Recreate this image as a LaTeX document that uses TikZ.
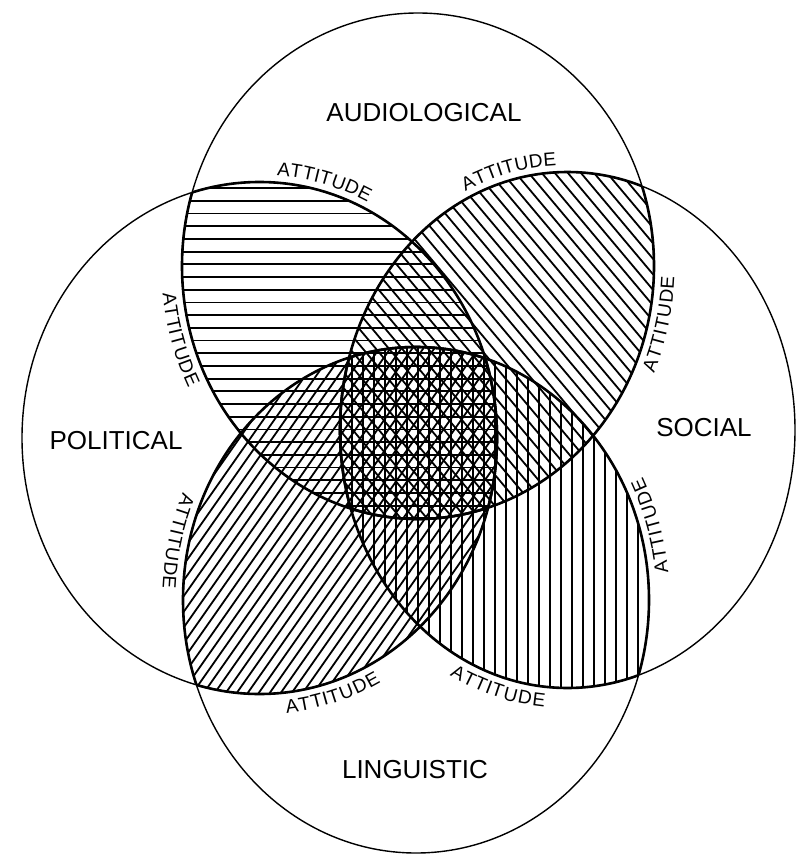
\documentclass[tikz,border=0pt]{standalone}
\usepackage{fontspec}
\setmainfont{Liberation Sans}
\usetikzlibrary{decorations.text}
\newcommand\attfont{\fontsize{9.5}{11}\selectfont}
\begin{document}
\begin{tikzpicture}[x=0.5pt,y=-0.5pt,
  hatch/.style={line width=0.9pt},
  outer/.style={line width=0.7pt},
  petal/.style={line width=1.3pt},
  lab/.style={font=\fontsize{13}{15}\selectfont, inner sep=0pt},
  attup/.style={decorate, decoration={text along path, text={|\attfont|ATTITUDE}, text align=center, raise=3.5pt}},
  attdn/.style={decorate, decoration={text along path, text={|\attfont|ATTITUDE}, text align=center, raise=-10.3pt}}]
\useasboundingbox (0,0) rectangle (798,856);
\def\shT{(418,266) ellipse [x radius=236, y radius=253]}
\def\shB{(416,600) ellipse [x radius=233, y radius=253]}
\def\shL{(259.5,438) ellipse [x radius=237.5, y radius=256]}
\def\shR{(567.5,430) ellipse [x radius=227.5, y radius=258]}
% top-left pair: horizontal
\begin{scope}
  \clip \shT; \clip \shL;
  \foreach \i in {0,...,30} \draw[hatch] (0,{150+\i*12.7}) -- (798,{150+\i*12.7});
\end{scope}
% top-right pair: falling diagonal
\begin{scope}
  \clip \shT; \clip \shR;
  \foreach \i in {-40,...,40} \draw[hatch] ({530-7.66*\i-257},{330+6.43*\i-306}) -- ({530-7.66*\i+257},{330+6.43*\i+306});
\end{scope}
% bottom-left pair: rising diagonal
\begin{scope}
  \clip \shL; \clip \shB;
  \foreach \i in {-45,...,45} \draw[hatch] ({300+7.37*\i-230},{540+5.17*\i+328}) -- ({300+7.37*\i+230},{540+5.17*\i-328});
\end{scope}
% bottom-right pair: vertical
\begin{scope}
  \clip \shR; \clip \shB;
  \foreach \i in {0,...,35} \draw[hatch] ({330+\i*11},300) -- ({330+\i*11},720);
\end{scope}
% circles
\draw[outer] \shT;
\draw[outer] \shB;
\draw[outer] \shL;
\draw[outer] \shR;
% petal outlines
\begin{scope}\clip \shL; \draw[petal] \shT; \draw[petal] \shB;\end{scope}
\begin{scope}\clip \shR; \draw[petal] \shT; \draw[petal] \shB;\end{scope}
\begin{scope}\clip \shT; \draw[petal] \shL; \draw[petal] \shR;\end{scope}
\begin{scope}\clip \shB; \draw[petal] \shL; \draw[petal] \shR;\end{scope}
% labels
\node[lab] (aud) at (424,113) {AUDIOLOGICAL};
\node[lab] (pol) at (116,441) {POLITICAL};
\node[lab] (soc) at (704,428) {SOCIAL};
\node[lab] (lin) at (415,770) {LINGUISTIC};
% ATTITUDE labels along the petal edges
\path[attup] plot[domain=-22:22, samples=40] ({259.5+237.5*cos(-75+\x)}, {438+256*sin(-75+\x)});
\path[attup] plot[domain=-22:22, samples=40] ({567.5+227.5*cos(256+\x)}, {430+258*sin(256+\x)});
\path[attdn] plot[domain=-22:22, samples=40] ({418+236*cos(163.7-\x)}, {266+253*sin(163.7-\x)});
\path[attdn] plot[domain=-22:22, samples=40] ({418+236*cos(12.8-\x)}, {266+253*sin(12.8-\x)});
\path[attdn] plot[domain=-22:22, samples=40] ({416+233*cos(193-\x)}, {600+253*sin(193-\x)});
\path[attdn] plot[domain=-22:22, samples=40] ({416+233*cos(-16.5-\x)}, {600+253*sin(-16.5-\x)});
\path[attdn] plot[domain=-22:22, samples=40] ({259.5+237.5*cos(73.2-\x)}, {438+256*sin(73.2-\x)});
\path[attdn] plot[domain=-22:22, samples=40] ({567.5+227.5*cos(106.5-\x)}, {430+258*sin(106.5-\x)});
\end{tikzpicture}
\end{document}
